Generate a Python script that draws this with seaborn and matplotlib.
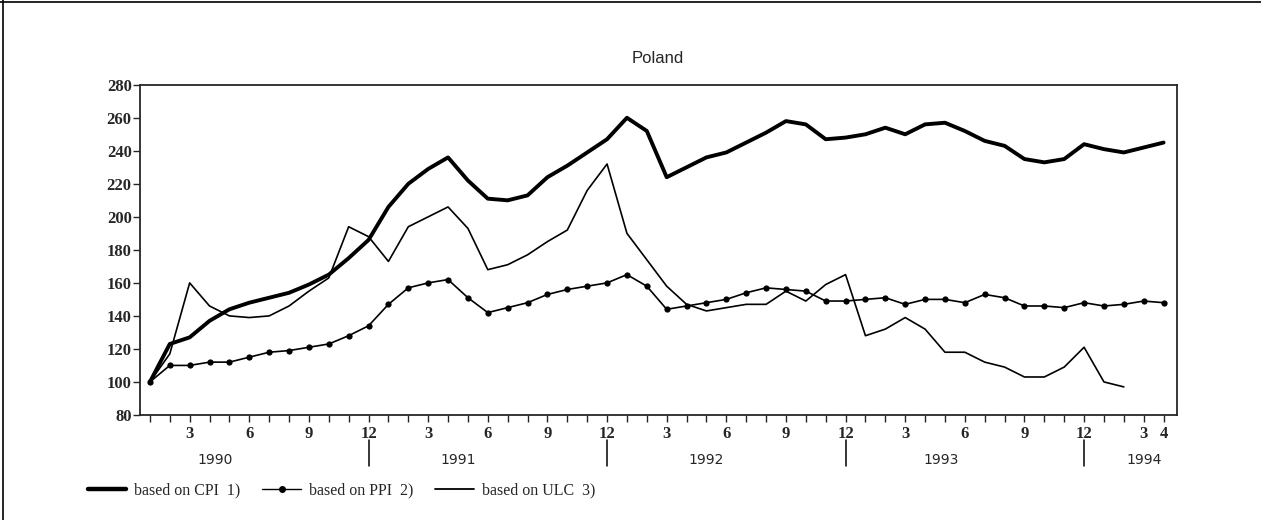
import numpy as np
import pandas as pd
import seaborn as sns
import matplotlib.pyplot as plt
from matplotlib.lines import Line2D

# monthly index, Jan 1990 = 100, Jan 1990 .. Apr 1994
cpi = [100, 123, 127, 137, 144, 148, 151, 154, 159, 165,
       175, 186, 206, 220, 229, 236, 222, 211, 210, 213,
       224, 231, 239, 247, 260, 252, 224, 230, 236, 239,
       245, 251, 258, 256, 247, 248, 250, 254, 250, 256,
       257, 252, 246, 243, 235, 233, 235, 244, 241, 239,
       242, 245]
ppi = [100, 110, 110, 112, 112, 115, 118, 119, 121, 123,
       128, 134, 147, 157, 160, 162, 151, 142, 145, 148,
       153, 156, 158, 160, 165, 158, 144, 146, 148, 150,
       154, 157, 156, 155, 149, 149, 150, 151, 147, 150,
       150, 148, 153, 151, 146, 146, 145, 148, 146, 147,
       149, 148]
ulc = [100, 117, 160, 146, 140, 139, 140, 146, 155, 163,
       194, 188, 173, 194, 200, 206, 193, 168, 171, 177,
       185, 192, 216, 232, 190, 174, 158, 147, 143, 145,
       147, 147, 155, 149, 159, 165, 128, 132, 139, 132,
       118, 118, 112, 109, 103, 103, 109, 121, 100, 97]
years = ["1990", "1991", "1992", "1993", "1994"]
year_pos = [3.3, 15.5, 28.0, 39.8, 50.0]
labels = ["based on CPI  1)", "based on PPI  2)", "based on ULC  3)"]

months = np.arange(len(cpi))
df = pd.DataFrame({"month": months, "cpi": cpi, "ppi": ppi,
                   "ulc": ulc + [np.nan] * (len(cpi) - len(ulc))})

sns.set_style("ticks")
serif = ["Liberation Serif", "DejaVu Serif"]

fig = plt.figure(figsize=(12.61, 5.2), dpi=100)
ax = fig.add_axes([0.111, 0.202, 0.822, 0.635])

sns.lineplot(data=df, x="month", y="cpi", ax=ax, color="black", lw=2.8)
sns.lineplot(data=df, x="month", y="ppi", ax=ax, color="black", lw=1.2,
             marker="o", markersize=4.5, markeredgewidth=0)
sns.lineplot(data=df, x="month", y="ulc", ax=ax, color="black", lw=1.2)

ax.set_xlim(-0.5, 51.65)
ax.set_ylim(80, 280)
ax.set_yticks(range(80, 281, 20))
ax.set_xlabel("")
ax.set_ylabel("")
ax.set_title("Poland", family="Liberation Sans", fontsize=12, pad=16)

# month ticks, labelled every quarter
ax.set_xticks(months, minor=True)
lab_pos = [m for m in months if (m + 1) % 3 == 0] + [51]
lab_txt = [str((m % 12) + 1) for m in lab_pos]
ax.set_xticks(lab_pos)
ax.set_xticklabels(lab_txt)
ax.tick_params(axis="x", which="both", direction="out", length=5, width=1, pad=3)
ax.tick_params(axis="y", direction="out", length=5, width=1, pad=1)
for t in ax.get_xticklabels() + ax.get_yticklabels():
    t.set_family(serif)
    t.set_fontweight("bold")
    t.set_fontsize(12)
for s in ax.spines.values():
    s.set_linewidth(1.3)

# year separators and year labels below the axis
trans = ax.get_xaxis_transform()
for m in [11, 23, 35, 47]:
    ax.plot([m, m], [-0.075, -0.155], transform=trans, color="black",
            lw=1.1, clip_on=False)
for yr, p in zip(years, year_pos):
    ax.text(p, -0.135, yr, transform=trans, ha="center", va="center",
            fontsize=10, family="DejaVu Sans", fontweight="medium")

handles = [Line2D([], [], color="black", lw=3.2),
           Line2D([], [], color="black", lw=1.0, marker="o", markersize=4),
           Line2D([], [], color="black", lw=1.3)]
leg = fig.legend(handles, labels, loc="center left", bbox_to_anchor=(0.058, 0.057),
                 ncol=3, frameon=False, handlelength=2.4, handletextpad=0.5,
                 columnspacing=1.4, numpoints=1, prop={"family": serif, "size": 11.5})

# page frame
fig.add_artist(Line2D([0, 1], [0.996, 0.996], color="black", lw=1.2))
fig.add_artist(Line2D([0.0025, 0.0025], [0, 1], color="black", lw=1.2))

fig.savefig("out.png", dpi=100)
